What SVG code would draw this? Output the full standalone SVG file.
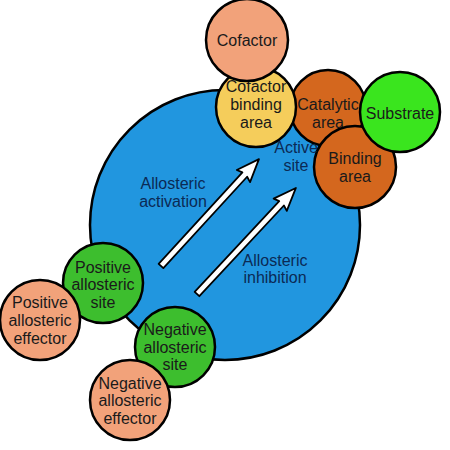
<svg xmlns="http://www.w3.org/2000/svg" width="450" height="450" viewBox="0 0 450 450">
<style>
.c{stroke:#000;stroke-width:2.5}
.t{font-family:"Liberation Sans",Arial,sans-serif;font-size:16px;text-anchor:middle;fill:#1a1a1a}
.b{font-family:"Liberation Sans",Arial,sans-serif;font-size:16px;text-anchor:middle;fill:#0b2a55}
.salmon{fill:#F2A27A}
.yellow{fill:#F5CD5B}
.orange{fill:#D4671E}
.lime{fill:#3AE51E}
.green{fill:#3DBE2E}
.arrow{fill:#fff;stroke:#000;stroke-width:1.8;stroke-linejoin:round}
</style>
<defs>
<polygon id="arr" points="0,-3.2 124,-3.2 122,-9 145,0 122,9 124,3.2 0,3.2"/>
</defs>
<g id="enzyme">
<circle class="c" cx="225" cy="225" r="135" fill="#2196DF"/>
</g>
<g id="catalytic-area">
<circle class="c orange" cx="328" cy="108" r="38"/>
<text class="t" x="328" y="110">Catalytic</text>
<text class="t" x="328" y="128">area</text>
</g>
<g id="binding-area">
<circle class="c orange" cx="355" cy="167" r="41"/>
<text class="t" x="355" y="164">Binding</text>
<text class="t" x="355" y="182">area</text>
</g>
<g id="substrate">
<circle class="c lime" cx="400" cy="112" r="40"/>
<text class="t" x="400" y="119">Substrate</text>
</g>
<g id="cofactor-binding-area">
<circle class="c yellow" cx="256" cy="107" r="40"/>
<text class="t" x="256" y="92">Cofactor</text>
<text class="t" x="256" y="110">binding</text>
<text class="t" x="256" y="128">area</text>
</g>
<g id="cofactor">
<circle class="c salmon" cx="247" cy="40" r="41"/>
<text class="t" x="247" y="46">Cofactor</text>
</g>
<g id="active-site">
<text class="b" x="296" y="153">Active</text>
<text class="b" x="296" y="171">site</text>
</g>
<g id="connectors">
<use href="#arr" class="arrow" transform="translate(161,266) rotate(-47.5)"/>
<use href="#arr" class="arrow" transform="translate(197,294) rotate(-47)"/>
</g>
<g id="allosteric-activation">
<text class="b" x="173" y="189">Allosteric</text>
<text class="b" x="173" y="207">activation</text>
</g>
<g id="allosteric-inhibition">
<text class="b" x="275" y="266">Allosteric</text>
<text class="b" x="275" y="283">inhibition</text>
</g>
<g id="positive-allosteric-site">
<circle class="c green" cx="103" cy="283" r="40"/>
<text class="t" x="103" y="273">Positive</text>
<text class="t" x="103" y="290">allosteric</text>
<text class="t" x="103" y="308">site</text>
</g>
<g id="positive-allosteric-effector">
<circle class="c salmon" cx="40" cy="320" r="40"/>
<text class="t" x="40" y="308">Positive</text>
<text class="t" x="40" y="326">allosteric</text>
<text class="t" x="40" y="344">effector</text>
</g>
<g id="negative-allosteric-site">
<circle class="c green" cx="175" cy="347" r="40"/>
<text class="t" x="175" y="335">Negative</text>
<text class="t" x="175" y="353">allosteric</text>
<text class="t" x="175" y="370">site</text>
</g>
<g id="negative-allosteric-effector">
<circle class="c salmon" cx="130" cy="400" r="40"/>
<text class="t" x="130" y="389">Negative</text>
<text class="t" x="130" y="406">allosteric</text>
<text class="t" x="130" y="424">effector</text>
</g>
</svg>
